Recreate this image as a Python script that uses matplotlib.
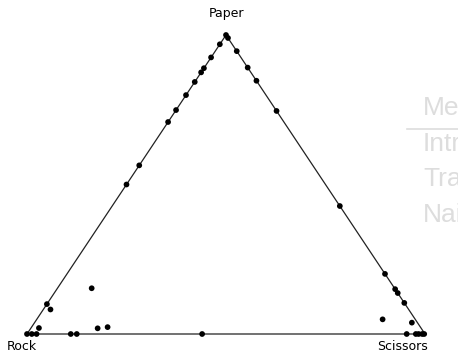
import numpy as np
import matplotlib
matplotlib.use("Agg")
import matplotlib.pyplot as plt
from matplotlib.lines import Line2D

# Strategy mixtures (rock, paper, scissors) of the final policies
rock = [0.90, 0.90, 0.96, 0.50, 0.436, 0.291, 0.251, 0.201, 0.157, 0.125,
        0.111, 0.075, 0.031, 0.0, 0.0, 0.0, 0.0, 0.0, 0.0, 0.0,
        0.0, 0.0, 0.0, 0.0, 0.082, 0.014, 1.0, 0.988, 0.976, 0.890,
        0.875, 0.560, 0.046, 0.023, 0.016, 0.007, 0.002, 0.761, 0.813, 0.786]
paper = [0.10, 0.082, 0.02, 0.50, 0.564, 0.709, 0.749, 0.799, 0.843, 0.875,
         0.889, 0.925, 0.969, 1.0, 0.99, 0.946, 0.891, 0.847, 0.746, 0.428,
         0.201, 0.150, 0.137, 0.104, 0.049, 0.038, 0.0, 0.0, 0.0, 0.0,
         0.0, 0.0, 0.0, 0.0, 0.0, 0.0, 0.0, 0.153, 0.019, 0.023]
scissors = [0.0, 0.018, 0.02, 0.0, 0.0, 0.0, 0.0, 0.0, 0.0, 0.0,
            0.0, 0.0, 0.0, 0.0, 0.01, 0.054, 0.109, 0.153, 0.254, 0.572,
            0.799, 0.850, 0.863, 0.896, 0.869, 0.948, 0.0, 0.012, 0.024, 0.110,
            0.125, 0.440, 0.954, 0.977, 0.984, 0.993, 0.998, 0.086, 0.168, 0.191]

vertex_labels = ["Rock", "Paper", "Scissors"]
legend_title = "Method"
legend_entries = ["Intrinsic", "Transfer", "Naive"]

H = np.sqrt(3) / 2


def to_xy(r, p, s):
    r, p, s = map(np.asarray, (r, p, s))
    tot = r + p + s
    p, s = p / tot, s / tot
    return s + p / 2, p * H


W, Hpx = 458, 352
fig = plt.figure(figsize=(W / 100, Hpx / 100), dpi=100)
ax = fig.add_axes([27 / W, (Hpx - 334) / Hpx, 398 / W, 299 / Hpx])
ax.set_xlim(0, 1)
ax.set_ylim(0, H)
ax.axis("off")

# triangle outline
tx, ty = to_xy([1, 0, 0, 1], [0, 1, 0, 0], [0, 0, 1, 0])
ax.plot(tx, ty, color="#222222", lw=0.9, clip_on=False, zorder=1)

x, y = to_xy(rock, paper, scissors)
ax.scatter(x, y, s=17, color="black", edgecolors="none", clip_on=False, zorder=3)

fs = 9
fig.text(22 / W, 1 - 346 / Hpx, vertex_labels[0], ha="center", va="center",
         fontsize=fs, family="DejaVu Sans")
fig.text(226 / W, 1 - 14 / Hpx, vertex_labels[1], ha="center", va="center",
         fontsize=fs, family="DejaVu Sans")
fig.text(403 / W, 1 - 346 / Hpx, vertex_labels[2], ha="center", va="center",
         fontsize=fs, family="DejaVu Sans")

# legend placed beside the triangle
lg_col = "#dddddd"
lx = 423 / W
fig.text(lx, 1 - 108 / Hpx, legend_title, ha="left", va="center",
         fontsize=19, color=lg_col, family="Liberation Sans")
fig.add_artist(Line2D([407 / W, 1.0], [1 - 129 / Hpx] * 2,
                      transform=fig.transFigure, color=lg_col, lw=1.2))
for i, name in enumerate(legend_entries):
    fig.text(lx, 1 - (144 + 35.5 * i) / Hpx, name, ha="left", va="center",
             fontsize=19, color=lg_col, family="Liberation Sans")

fig.savefig("out.png", dpi=100)
